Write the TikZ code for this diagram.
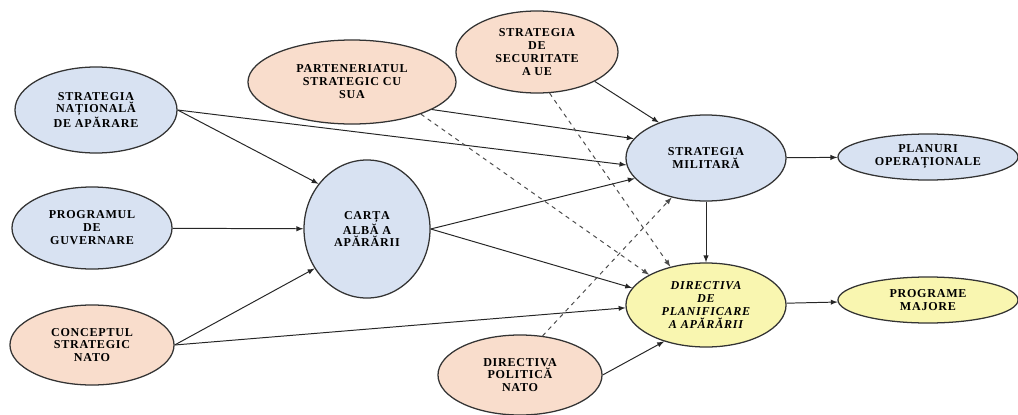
\documentclass[tikz,border=0pt]{standalone}
\usepackage{fontspec}
\setmainfont{Liberation Serif}[LetterSpace=6]
\usetikzlibrary{shapes}
\usetikzlibrary{arrows.meta}
\definecolor{fillb}{RGB}{216,226,242}
\definecolor{fillp}{RGB}{249,221,204}
\definecolor{filly}{RGB}{249,246,176}
\tikzset{
    mynode/.style = {ellipse, line width=0.9pt, draw=black!80, align=center, inner sep=0pt,
        font=\fontsize{8.6}{9.2}\selectfont\bfseries},
    mynodeb/.style = {mynode, fill=fillb},
    mynodep/.style = {mynode, fill=fillp},
    mynodey/.style = {mynode, fill=filly},
    edgen/.style = {-latex, line width=0.7pt, black!85},
    edgend/.style = {-latex, line width=0.7pt, black!70, dashed}, % dashed links
}

\begin{document}
\begin{tikzpicture}[x=0.025cm, y=-0.025cm]
\useasboundingbox (0,0) rectangle (1018,414);
%
\node[mynodeb, minimum width=4.05cm, minimum height=2.15cm] at (96,110) (sna) {STRATEGIA\\NAȚIONALĂ\\DE APĂRARE};
\node[mynodeb, minimum width=4.0cm, minimum height=2.05cm] at (92,228) (pdg) {PROGRAMUL\\DE\\GUVERNARE};
\node[mynodep, minimum width=4.1cm, minimum height=2.0cm] at (92,345) (csn) {CONCEPTUL\\STRATEGIC\\NATO};
\node[mynodeb, minimum width=3.15cm, minimum height=3.45cm] at (367,229) (caa) {CARȚA\\ALBĂ A\\APĂRĂRII};
\node[mynodep, minimum width=5.2cm, minimum height=2.1cm] at (352,82) (psu) {PARTENERIATUL\\STRATEGIC CU\\SUA};
\node[mynodep, minimum width=4.05cm, minimum height=2.05cm] at (537,52) (ssue) {STRATEGIA\\DE\\SECURITATE\\A UE};
\node[mynodeb, minimum width=4.0cm, minimum height=2.15cm] at (706,158) (sm) {STRATEGIA\\MILITARĂ};
\node[mynodeb, minimum width=4.5cm, minimum height=1.15cm] at (928,157) (po) {PLANURI\\OPERAȚIONALE};
\node[mynodey, minimum width=4.0cm, minimum height=2.1cm, font=\fontsize{8.6}{9.2}\selectfont\bfseries\itshape] at (706,305) (dpa) {DIRECTIVA\\DE\\PLANIFICARE\\A APĂRĂRII};
\node[mynodey, minimum width=4.5cm, minimum height=1.15cm] at (928,300) (pm) {PROGRAME\\MAJORE};
\node[mynodep, minimum width=4.1cm, minimum height=2.0cm] at (520,375) (dpn) {DIRECTIVA\\POLITICĂ\\NATO};
%
\draw[edgen] (sna.east) -- (caa.137);
\draw[edgen] (sna.east) -- (sm.185);
\draw[edgen] (pdg) -- (caa);
\draw[edgen] (csn.east) -- (caa.217);
\draw[edgen] (csn.east) -- (dpa.182);
\draw[edgen] (caa.east) -- (sm.196);
\draw[edgen] (caa.east) -- (dpa.167);
\draw[edgen] (psu.-19) -- (sm.165);
\draw[edgen] (ssue.-27) -- (sm.143);
\draw[edgen] (sm) -- (po);
\draw[edgen] (sm) -- (dpa);
\draw[edgen] (dpa) -- (pm);
\draw[edgen] (dpn.east) -- (dpa.221);
\draw[edgend] (psu.-25) -- (dpa.152);
\draw[edgend] (ssue.-73) -- (dpa.133);
\draw[edgend] (dpn.60) -- (sm.229);

\end{tikzpicture}
\end{document}
